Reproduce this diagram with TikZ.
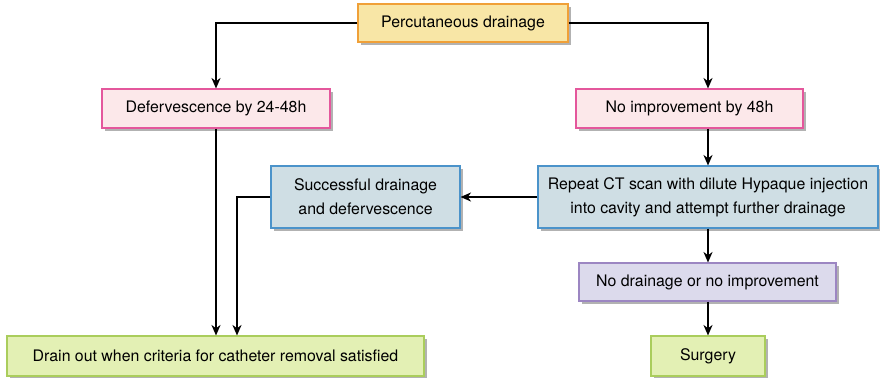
\documentclass[tikz,border=0pt]{standalone}
\usepackage{fontspec}
\setmainfont{TeX Gyre Heros}
\usepackage{tikz}
\usetikzlibrary{arrows.meta, shadows}

\definecolor{yelfill}{HTML}{F8E6A6}
\definecolor{yeldraw}{HTML}{F0A038}
\definecolor{pinkfill}{HTML}{FCE8EA}
\definecolor{pinkdraw}{HTML}{E4579C}
\definecolor{bluefill}{HTML}{CFDEE4}
\definecolor{bluedraw}{HTML}{4B93CA}
\definecolor{lavfill}{HTML}{DCDAEC}
\definecolor{lavdraw}{HTML}{9C86C2}
\definecolor{grnfill}{HTML}{E3F0B4}
\definecolor{grndraw}{HTML}{AACD5C}

\tikzset{
    box/.style={draw, line width=0.8pt, inner sep=0pt, align=center,
        font=\fontsize{11.3}{17}\selectfont,
        drop shadow={shadow xshift=2.2pt, shadow yshift=-2.2pt, fill=black!30, opacity=1}},
    startbox/.style={box, fill=yelfill, draw=yeldraw},
    checkbox/.style={box, fill=pinkfill, draw=pinkdraw},
    actbox/.style={box, fill=bluefill, draw=bluedraw},
    failbox/.style={box, fill=lavfill, draw=lavdraw},
    endbox/.style={box, fill=grnfill, draw=grndraw},
    arr/.style={-{Stealth[length=7.5pt, width=6.5pt]}, line width=0.8pt}
}

\begin{document}
\begin{tikzpicture}[x=0.025cm, y=-0.025cm]
    \useasboundingbox (0, 0) rectangle (880, 377);

    % start
    \node[startbox, minimum width=210*0.025cm, minimum height=38*0.025cm] (perc) at (463, 23) {Percutaneous drainage};

    % first check after 48h
    \node[checkbox, minimum width=228*0.025cm, minimum height=39*0.025cm] (defer) at (216, 108.5) {Defervescence by 24-48h};
    \node[checkbox, minimum width=227*0.025cm, minimum height=39*0.025cm] (noimp) at (689.5, 108.5) {No improvement by 48h};

    % repeat scan
    \node[actbox, minimum width=340*0.025cm, minimum height=62*0.025cm] (repeat) at (708, 197) {Repeat CT scan with dilute Hypaque injection\\into cavity and attempt further drainage};
    \node[actbox, minimum width=189*0.025cm, minimum height=62*0.025cm] (succ) at (365.5, 197) {Successful drainage\\and defervescence};

    % failure
    \node[failbox, minimum width=257*0.025cm, minimum height=38*0.025cm] (nodrain) at (707.5, 282) {No drainage or no improvement};

    % outcomes
    \node[endbox, minimum width=417*0.025cm, minimum height=40*0.025cm] (drainout) at (215.5, 356) {Drain out when criteria for catheter removal satisfied};
    \node[endbox, minimum width=114*0.025cm, minimum height=40*0.025cm] (surgery) at (708, 356) {Surgery};

    % connectors
    \draw[arr] (perc.west) -| (defer.north);
    \draw[arr] (perc.east) -| (noimp.north -| repeat.north);
    \draw[arr] (defer.south) -- (defer.south |- drainout.north);
    \draw[arr] (succ.west) -| ([xshift=21*0.025cm]defer.south |- drainout.north);
    \draw[arr] (repeat.west) -- (succ.east);
    \draw[arr] (noimp.south -| repeat.north) -- (repeat.north);
    \draw[arr] (repeat.south) -- (repeat.south |- nodrain.north);
    \draw[arr] (nodrain.south -| surgery.north) -- (surgery.north);
\end{tikzpicture}
\end{document}
